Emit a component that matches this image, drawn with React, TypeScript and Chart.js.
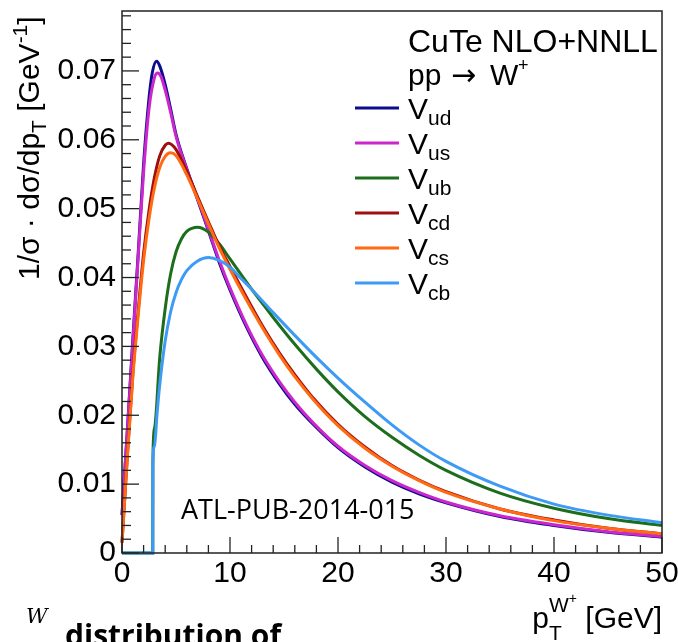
import React, { useEffect, useRef } from 'react';
import { Chart, registerables } from 'chart.js';

Chart.register(...registerables);

// ---- data ----
const subscripts = ['ud', 'us', 'ub', 'cd', 'cs', 'cb'];
const colors = ['#0c0c8e', '#cc26cc', '#1c6e1c', '#9e0f0f', '#ff6a12', '#3d9bf5'];

const xVud = [0, 0.5, 1, 1.5, 2, 2.5, 2.8, 3.2, 3.5, 4, 4.5, 5, 6, 7, 8, 9, 10, 11.5, 13, 14.6, 16, 17.7, 20, 22.5, 25, 27.5, 30, 35, 40, 45, 50];
const yVud = [0.0055, 0.018, 0.031, 0.0435, 0.0565, 0.066, 0.0697, 0.0714, 0.0707, 0.068, 0.0645, 0.0608, 0.0558, 0.0513, 0.0468, 0.0422, 0.0382, 0.0329, 0.0284, 0.0245, 0.0216, 0.0187, 0.0153, 0.0125, 0.0103, 0.0086, 0.0073, 0.0053, 0.004, 0.003, 0.0023];

const xVus = [0, 0.5, 1, 1.5, 2, 2.5, 3, 3.3, 3.6, 4, 4.5, 5, 6, 7, 8, 9, 10, 11.5, 13, 14.6, 16, 17.7, 20, 22.5, 25, 27.5, 30, 35, 40, 45, 50];
const yVus = [0.0055, 0.0178, 0.0305, 0.043, 0.0553, 0.0645, 0.069, 0.0697, 0.0692, 0.0672, 0.064, 0.0605, 0.0557, 0.0515, 0.047, 0.0425, 0.0385, 0.0332, 0.0287, 0.0248, 0.0219, 0.0189, 0.0155, 0.0127, 0.0105, 0.0088, 0.0074, 0.0054, 0.0041, 0.0031, 0.0024];

const xVub = [0, 2.85, 2.86, 3, 3.5, 4, 4.5, 5, 5.5, 6, 7, 8, 9, 10, 11, 12, 14, 16, 18, 20, 22.5, 25, 27.5, 30, 35, 40, 45, 50];
const yVub = [0, 0, 0.0135, 0.018, 0.0285, 0.0355, 0.0405, 0.0437, 0.0456, 0.0467, 0.0473, 0.0466, 0.0449, 0.0427, 0.0405, 0.0383, 0.0342, 0.0303, 0.0267, 0.0234, 0.0198, 0.0168, 0.0142, 0.012, 0.0087, 0.0065, 0.005, 0.004];

const xVcd = [0, 0.5, 1, 1.5, 2, 2.5, 3, 3.5, 4, 4.3, 4.6, 5, 6, 7, 8, 9, 10, 11.5, 13, 14.6, 16, 17.7, 20, 22.5, 25, 27.5, 30, 35, 40, 45, 50];
const yVcd = [0.0015, 0.0142, 0.026, 0.0352, 0.0435, 0.0497, 0.0545, 0.0577, 0.0592, 0.0595, 0.0593, 0.0586, 0.0554, 0.0517, 0.0481, 0.0446, 0.0416, 0.0372, 0.033, 0.029, 0.0259, 0.0225, 0.0187, 0.0154, 0.0127, 0.0106, 0.0089, 0.0064, 0.0048, 0.0036, 0.0028];

const xVcs = [0, 0.5, 1, 1.5, 2, 2.5, 3, 3.5, 4, 4.5, 5, 6, 7, 8, 9, 10, 11.5, 13, 14.6, 16, 17.7, 20, 22.5, 25, 27.5, 30, 35, 40, 45, 50];
const yVcs = [0.0015, 0.014, 0.0255, 0.0345, 0.0425, 0.0485, 0.053, 0.056, 0.0576, 0.0581, 0.0577, 0.0549, 0.0514, 0.0478, 0.0443, 0.0412, 0.0368, 0.0327, 0.0287, 0.0256, 0.0223, 0.0185, 0.0152, 0.0126, 0.0105, 0.0088, 0.0064, 0.0047, 0.0036, 0.0028];

const xVcb = [0, 2.85, 2.86, 3, 3.26, 3.5, 4, 4.5, 5, 5.5, 6, 7, 8, 9, 10, 11, 12, 14, 16, 18, 20, 22.5, 25, 27.5, 30, 35, 40, 45, 50];
const yVcb = [0, 0, 0.013, 0.0155, 0.0205, 0.0245, 0.0308, 0.035, 0.0378, 0.0397, 0.041, 0.0424, 0.0429, 0.0425, 0.0415, 0.0399, 0.0383, 0.0349, 0.0316, 0.0284, 0.0254, 0.0219, 0.0186, 0.0157, 0.0133, 0.0097, 0.0071, 0.0055, 0.0044];

const seriesX = [xVud, xVus, xVub, xVcd, xVcs, xVcb];
const seriesY = [yVud, yVus, yVub, yVcd, yVcs, yVcb];

const xTickValues = [0, 10, 20, 30, 40, 50];
const yTickLabels = ['0', '0.01', '0.02', '0.03', '0.04', '0.05', '0.06', '0.07'];

const X_MIN = 0;
const X_MAX = 50;
const Y_MIN = 0;
const Y_MAX = 0.0787;

const HELV = '"Liberation Sans", Arial, Helvetica, sans-serif';

function line(ctx: CanvasRenderingContext2D, x1: number, y1: number, x2: number, y2: number) {
  ctx.beginPath();
  ctx.moveTo(x1, y1);
  ctx.lineTo(x2, y2);
  ctx.stroke();
}

const overlay = {
  id: 'overlay',
  afterDraw(chart: any) {
    const ctx: CanvasRenderingContext2D = chart.ctx;
    const ca = chart.chartArea;
    const xs = chart.scales.x;
    const ys = chart.scales.y;
    ctx.save();

    // frame
    ctx.strokeStyle = '#222';
    ctx.lineWidth = 1.5;
    ctx.strokeRect(ca.left, ca.top, ca.right - ca.left, ca.bottom - ca.top);

    // inner ticks
    ctx.lineWidth = 1.3;
    for (let i = 0; i <= 50; i++) {
      const v = i * 0.002;
      if (v > Y_MAX) break;
      const py = ys.getPixelForValue(v);
      const len = i % 5 === 0 ? 17 : 9;
      line(ctx, ca.left, py, ca.left + len, py);
    }
    for (let i = 0; i <= 25; i++) {
      const v = i * 2;
      const px = xs.getPixelForValue(v);
      const len = i % 5 === 0 ? 16 : 8;
      line(ctx, px, ca.bottom, px, ca.bottom - len);
    }

    ctx.fillStyle = '#000';
    ctx.textBaseline = 'alphabetic';
    ctx.textAlign = 'left';

    // header text
    ctx.font = `32px ${HELV}`;
    ctx.fillText('CuTe NLO+NNLL', 408, 52);
    ctx.font = `30px ${HELV}`;
    ctx.fillText('pp', 408, 85);
    ctx.font = `30px "DejaVu Sans", ${HELV}`;
    ctx.fillText('\u2192', 451, 85);
    ctx.font = `30px ${HELV}`;
    ctx.fillText('W', 490, 85);
    ctx.font = `18px ${HELV}`;
    ctx.fillText('+', 518, 71);

    // legend
    for (let i = 0; i < subscripts.length; i++) {
      const ly = 108 + 35 * i;
      ctx.strokeStyle = colors[i];
      ctx.lineWidth = 3;
      line(ctx, 355, ly, 399, ly);
      ctx.fillStyle = '#000';
      ctx.font = `30px ${HELV}`;
      ctx.fillText('V', 408, ly + 10.5);
      ctx.font = `21px ${HELV}`;
      ctx.fillText(subscripts[i], 428, ly + 17);
    }

    // reference tag
    ctx.font = `27px "Open Sans", sans-serif`;
    ctx.fillText('ATL-PUB-2014-015', 181, 519);

    // x axis title (right aligned at the axis end)
    ctx.font = `30px ${HELV}`;
    const gev = ' [GeV]';
    const gevW = ctx.measureText(gev).width;
    const gevX = ca.right - gevW;
    ctx.fillText(gev, gevX, 628);
    ctx.font = `21px ${HELV}`;
    const wW = ctx.measureText('W').width;
    ctx.font = `14px ${HELV}`;
    const plusW = ctx.measureText('+').width;
    const supX = gevX - wW - plusW;
    ctx.font = `21px ${HELV}`;
    ctx.fillText('W', supX, 612);
    ctx.fillText('T', supX, 640);
    ctx.font = `14px ${HELV}`;
    ctx.fillText('+', supX + wW, 603);
    ctx.font = `30px ${HELV}`;
    const pW = ctx.measureText('p').width;
    ctx.fillText('p', supX - pW, 628);

    // y axis title (rotated)
    ctx.translate(39, 280);
    ctx.rotate(-Math.PI / 2);
    let cx = 0;
    ctx.font = `30px ${HELV}`;
    const a = '1/\u03c3 \u00b7 d\u03c3/dp';
    ctx.fillText(a, cx, 0);
    cx += ctx.measureText(a).width;
    ctx.font = `21px ${HELV}`;
    ctx.fillText('T', cx, 7);
    cx += ctx.measureText('T').width;
    ctx.font = `30px ${HELV}`;
    const b = ' [GeV';
    ctx.fillText(b, cx, 0);
    cx += ctx.measureText(b).width;
    ctx.font = `21px ${HELV}`;
    ctx.fillText('-1', cx, -12);
    cx += ctx.measureText('-1').width;
    ctx.font = `30px ${HELV}`;
    ctx.fillText(']', cx, 0);
    ctx.setTransform(1, 0, 0, 1, 0, 0);

    // slide text cut at the bottom
    ctx.font = `italic 21px "DejaVu Serif", "Liberation Serif", serif`;
    ctx.fillText('W', 26, 623);
    const slideText = 'distribution of';
    ctx.font = `bold 30px "Open Sans", sans-serif`;
    const w30 = ctx.measureText(slideText).width;
    const size = (30 * 216) / w30;
    ctx.font = `bold ${size.toFixed(1)}px "Open Sans", sans-serif`;
    ctx.fillText(slideText, 65, 630 + 0.54 * size);

    ctx.restore();
  },
};

export default function App() {
  const ref = useRef<HTMLCanvasElement | null>(null);

  useEffect(() => {
    let chart: Chart | null = null;
    let cancelled = false;

    const build = () => {
      if (cancelled || !ref.current) return;
      const datasets = seriesX.map((xsArr, i) => ({
        label: 'V' + subscripts[i],
        data: xsArr.map((x, j) => ({ x, y: seriesY[i][j] })),
        borderColor: colors[i],
        backgroundColor: colors[i],
        borderWidth: 3,
        pointRadius: 0,
        fill: false,
        cubicInterpolationMode: 'monotone' as const,
        order: subscripts.length - 1 - i,
        clip: 4,
      }));

      const tickFont = { family: HELV, size: 30 };

      chart = new Chart(ref.current, {
        type: 'line',
        data: { datasets },
        options: {
          responsive: true,
          maintainAspectRatio: false,
          animation: false,
          layout: { padding: { top: 11, right: 16, left: 0, bottom: 0 } },
          plugins: { legend: { display: false }, tooltip: { enabled: false } },
          scales: {
            x: {
              type: 'linear',
              min: X_MIN,
              max: X_MAX,
              grid: { display: false, drawTicks: false },
              border: { display: false },
              afterBuildTicks: (s: any) => {
                s.ticks = xTickValues.map((v) => ({ value: v }));
              },
              ticks: {
                padding: 3,
                font: tickFont,
                color: '#000',
                maxRotation: 0,
                autoSkip: false,
                callback: (v: any) => String(v),
              },
              afterFit: (s: any) => {
                s.height = 89;
                s.paddingLeft = 0;
                s.paddingRight = 0;
              },
            },
            y: {
              type: 'linear',
              min: Y_MIN,
              max: Y_MAX,
              grid: { display: false, drawTicks: false },
              border: { display: false },
              afterBuildTicks: (s: any) => {
                s.ticks = yTickLabels.map((t) => ({ value: parseFloat(t) }));
              },
              ticks: {
                padding: 6,
                font: tickFont,
                color: '#000',
                autoSkip: false,
                callback: (v: any) => {
                  const idx = yTickLabels.findIndex((t) => Math.abs(parseFloat(t) - v) < 1e-9);
                  return idx >= 0 ? yTickLabels[idx] : '';
                },
              },
              afterFit: (s: any) => {
                s.width = 122;
                s.paddingTop = 0;
                s.paddingBottom = 0;
              },
            },
          },
        },
        plugins: [overlay],
      });
    };

    const fontsToLoad = [
      '30px "Liberation Sans"',
      '27px "Open Sans"',
      'bold 30px "Open Sans"',
      '30px "DejaVu Sans"',
      'italic 21px "DejaVu Serif"',
    ];
    const fs: any = (document as any).fonts;
    if (fs && fs.load) {
      Promise.all(fontsToLoad.map((f) => fs.load(f).catch(() => null)))
        .then(() => build())
        .catch(() => build());
    } else {
      build();
    }

    return () => {
      cancelled = true;
      if (chart) chart.destroy();
    };
  }, []);

  return (
    <div style={{ position: 'fixed', left: 0, top: 0, width: 678, height: 642, background: '#fff' }}>
      <canvas ref={ref} />
    </div>
  );
}
